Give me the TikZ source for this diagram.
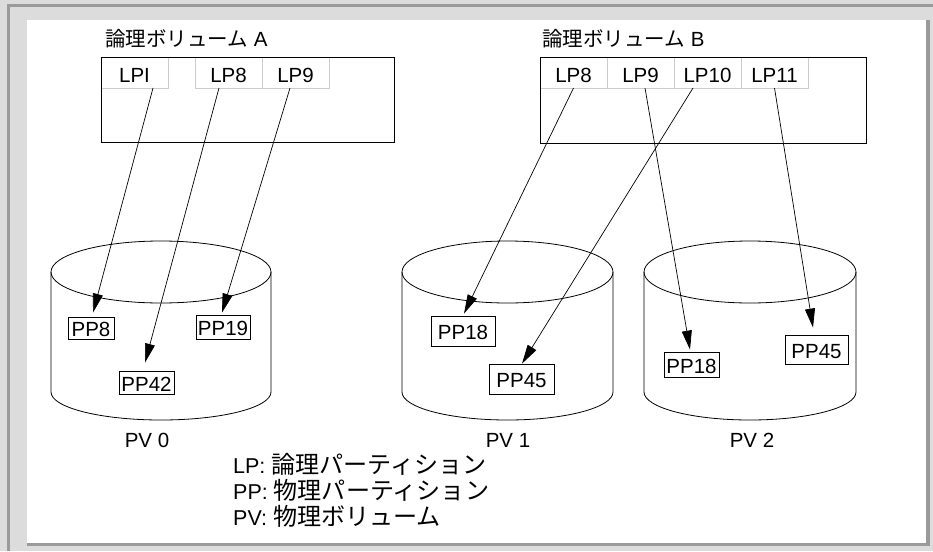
\documentclass[tikz,border=0pt]{standalone}
\usepackage{fontspec}
\setmainfont{Liberation Sans}
\newfontfamily\cjk{Noto Sans CJK JP}
\newfontfamily\cjkwide{Noto Sans CJK JP}[Scale=1.12]
\usetikzlibrary{positioning}
\usetikzlibrary{arrows.meta}
\usetikzlibrary{calc}
\definecolor{panelgray}{HTML}{DCDCDC}
\definecolor{edgegray}{HTML}{9A9A9A}
\tikzstyle{cell}=[draw=black!20, line width=0.8pt, minimum width=67pt, minimum height=31pt, inner sep=0pt, outer sep=0pt, text height=19pt, text depth=0pt]
\tikzstyle{volbox}=[draw, line width=0.9pt, inner sep=0pt]
\tikzstyle{ppbox}=[draw, line width=0.8pt, inner sep=0pt, text height=17pt, text depth=0pt]
\tikzstyle{disk}=[line width=0.8pt]
\tikzstyle{link}=[-{Triangle[length=19pt,width=10pt]}, line width=0.7pt]

\begin{document}
\begin{tikzpicture}[x=1pt, y=-1pt, font=\fontsize{20.5}{24}\selectfont]

% frame
  \fill[panelgray] (0,0) rectangle (933,551);
  \fill[edgegray] (7,4) rectangle (933,7);
  \fill[edgegray] (7,4) rectangle (10,551);
  \fill[edgegray] (27,20) rectangle (930,546);
  \fill[white] (27,20) rectangle (926,543);

% logical volumes
  \node[anchor=base west, inner sep=0pt] (titleA) at (105,47) {{\cjk 論理ボリューム} A};
  \node[anchor=base west, inner sep=0pt] (titleB) at (542,47) {{\cjk 論理ボリューム} B};

  \node[cell] (aI) at (134.5,72.5) {LPI};
  \node[cell] (a8) at (228.5,72.5) {LP8};
  \node[cell, right=0pt of a8] (a9) {LP9};

  \node[cell] (b8) at (573.5,72.5) {LP8};
  \node[cell, right=0pt of b8] (b9) {LP9};
  \node[cell, right=0pt of b9] (b10) {LP10};
  \node[cell, right=0pt of b10] (b11) {LP11};

  \node[volbox, minimum width=293pt, minimum height=85pt] (volA) at (247.5,99.5) {};
  \node[volbox, minimum width=326pt, minimum height=86pt] (volB) at (703,100) {};

% physical volumes
  \foreach \cx/\rx/\lx/\name in {161/110/147/0, 507.5/105.5/508/1, 750/106/752/2}
  {
    \draw[disk] (\cx,272) ellipse[x radius=\rx pt, y radius=31pt];
    \draw[disk] (\cx-\rx,272) -- (\cx-\rx,392) arc[start angle=180, end angle=360, x radius=\rx pt, y radius=28pt] -- (\cx+\rx,272);
    \node (pv\name) at (\lx,440) {PV \name};
  }

  \node[ppbox, minimum width=46pt, minimum height=22pt] (zero8) at (91,328) {PP8};
  \node[ppbox, minimum width=54pt, minimum height=24pt] (zero19) at (223,327) {PP19};
  \node[ppbox, minimum width=55pt, minimum height=23pt] (zero42) at (146.5,382.5) {PP42};
  \node[ppbox, minimum width=64pt, minimum height=30pt] (one18) at (463,331) {PP18};
  \node[ppbox, minimum width=65pt, minimum height=30pt] (one45) at (521.5,379) {PP45};
  \node[ppbox, minimum width=55pt, minimum height=25pt] (two18) at (691.5,364.5) {PP18};
  \node[ppbox, minimum width=63pt, minimum height=29pt] (two45) at (816.5,349.5) {PP45};

% mapping
  \foreach \source/\sx/\dest/\dx/\gap in {aI/18.5/zero8/2/4, a8/-9.5/zero42/-1.5/8, a9/-5.5/zero19/-1/2, b8/0/one18/1/2, b9/4.5/two18/-1.5/2, b10/-14.5/one45/0.5/0, b11/0/two45/-3.5/7}
    \draw[link] ([xshift=\sx pt]\source.south) -- ([xshift=\dx pt, yshift=\gap pt]\dest.north);

% legend
  \foreach \y/\abbr/\txt/\name in {473/LP/論理パーティション/lgLP, 499/PP/物理パーティション/lgPP, 525/PV/物理ボリューム/lgPV}
    \node[anchor=base west, inner sep=0pt, font=\fontsize{21.5}{24}\selectfont] (\name) at (233,\y) {\abbr: {\cjkwide \txt}};

\end{tikzpicture}
\end{document}
